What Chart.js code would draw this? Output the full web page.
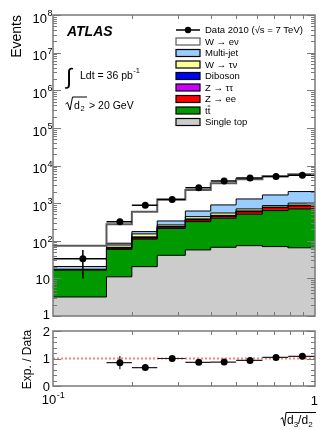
<!DOCTYPE html>
<html><head><meta charset="utf-8">
<script src="https://cdn.jsdelivr.net/npm/chart.js@4.4.0/dist/chart.umd.min.js"></script>
<style>
html,body{margin:0;padding:0;background:#fff;}
#wrap{position:relative;width:332px;height:430px;overflow:hidden;}
canvas{position:absolute;left:0;top:0;}
</style></head><body>
<div id="wrap"><canvas id="main" width="332" height="430"></canvas><canvas id="ratio" width="332" height="430"></canvas></div>
<script>
// ---------------- data ----------------
const binEdges    = [0.1, 0.16, 0.2, 0.25, 0.32, 0.4, 0.5, 0.63, 0.79, 1.0];
const dataCounts  = [33, 322, 880, 1240, 2580, 3890, 4680, 5070, 5510];
const dataErrLow  = [23, 18, 30, 35, 51, 62, 68, 71, 74];
const dataErrHigh = [24, 18, 30, 35, 51, 62, 68, 71, 74];
const singleTop = [3.2, 11, 20.5, 41, 57, 67, 74, 70, 65];
const ttbar     = [13.5, 48, 89.5, 171, 265, 330, 433, 563, 636];
const zee       = [0.3, 4, 7, 18, 35, 46, 80, 120, 139];
const ztautau   = [0.1, 2, 5, 5, 12, 15, 17, 16, 24];
const diboson   = [0.1, 2, 5, 5, 12, 15, 17, 16, 24];
const wtaunu    = [0.3, 10, 25, 23, 56, 73, 80, 75, 112];
const multijet  = [3.2, 9, 23, 73, 180, 350, 589, 790, 1030];
const wenu      = [53, 188, 415, 904, 1603, 2484, 3010, 3550, 3820];
const ratioValues = [null, 0.85, 0.67, 1.0, 0.86, 0.87, 0.93, 1.04, 1.08];
const ratioErr    = [null, 0.24, 0.04, 0.08, 0.05, 0.04, 0.04, 0.04, 0.04];
const mainYTickPowers = [0, 1, 2, 3, 4, 5, 6, 7, 8];
const xMinorTickValues = [0.2, 0.3, 0.4, 0.5, 0.6, 0.7, 0.8, 0.9];
const ratioYTickLabels = ['0', '1', '2'];
const seriesNames = ['Single top', 'tt', 'Z \u2192 ee', 'Z \u2192 \u03c4\u03c4', 'Diboson', 'W \u2192 \u03c4\u03bd', 'Multi-jet', 'W \u2192 e\u03bd'];

// ---------------- styles ----------------
const stackSeries = [singleTop, ttbar, zee, ztautau, diboson, wtaunu, multijet, wenu];
const stackStyles = [
  {fill:'#cccccc', line:'#000', lw:1},
  {fill:'#009900', line:'#000', lw:1},
  {fill:'#ff0000', line:'#000', lw:1},
  {fill:'#cc00ff', line:'#000', lw:1},
  {fill:'#0000ff', line:'#000', lw:1},
  {fill:'#ffff99', line:'#000', lw:1},
  {fill:'#99ccff', line:'#000', lw:1},
  {fill:'#ffffff', line:'#5a5a5a', lw:2}
];
const FF = '"Liberation Sans", Arial, Helvetica, sans-serif';
const fnt = (s, st) => (st ? st + ' ' : '') + s + 'px ' + FF;
const FRAME = '#7a7a7a';

// ---------------- build tables ----------------
const nb = dataCounts.length;
const centers = [];
for (let i = 0; i < nb; i++) centers.push((binEdges[i] + binEdges[i + 1]) / 2);
function stepPoints(vals) {
  const pts = [];
  for (let i = 0; i < vals.length; i++) {
    pts.push({x: binEdges[i], y: vals[i]});
    pts.push({x: binEdges[i + 1], y: vals[i]});
  }
  return pts;
}
let run = new Array(nb).fill(0);
const cums = stackSeries.map(arr => { run = run.map((r, i) => r + arr[i]); return run.slice(); });

const stackDatasets = [];
for (let k = stackSeries.length - 1; k >= 0; k--) {
  const st = stackStyles[k];
  stackDatasets.push({
    label: seriesNames[k], data: stepPoints(cums[k]),
    borderColor: st.line, borderWidth: st.lw, backgroundColor: st.fill,
    fill: k === 0 ? 'start' : '+1', pointRadius: 0, tension: 0
  });
}
function xErrPoints(vals) {
  const pts = [];
  for (let i = 0; i < nb; i++) {
    if (vals[i] == null) continue;
    pts.push({x: binEdges[i], y: vals[i]}, {x: binEdges[i + 1], y: vals[i]}, {x: binEdges[i + 1], y: null});
  }
  return pts;
}
function yErrPoints(vals, lo, hi) {
  const pts = [];
  for (let i = 0; i < nb; i++) {
    if (vals[i] == null) continue;
    pts.push({x: centers[i], y: vals[i] - lo[i]}, {x: centers[i], y: vals[i] + hi[i]}, {x: centers[i], y: null});
  }
  return pts;
}
const dataDatasets = [
  {label: 'Data 2010', data: centers.map((c, i) => ({x: c, y: dataCounts[i]})), showLine: false,
   pointRadius: 3.5, pointBackgroundColor: '#000', pointBorderColor: '#000', pointBorderWidth: 0, borderWidth: 0},
  {data: xErrPoints(dataCounts), borderColor: '#000', borderWidth: 1.5, pointRadius: 0, fill: false, spanGaps: false},
  {data: yErrPoints(dataCounts, dataErrLow, dataErrHigh), borderColor: '#000', borderWidth: 1.5, pointRadius: 0, fill: false, spanGaps: false}
];

// ---------------- drawing helpers ----------------
function seg(ctx, x1, y1, x2, y2) { ctx.beginPath(); ctx.moveTo(x1, y1); ctx.lineTo(x2, y2); ctx.stroke(); }
function powLabel(ctx, base, sup, xRight, yc, bs, ss) {
  ctx.textAlign = 'left'; ctx.textBaseline = 'alphabetic';
  ctx.font = fnt(ss); const ws = sup ? ctx.measureText(sup).width : 0;
  ctx.font = fnt(bs); const wb = ctx.measureText(base).width;
  const x0 = xRight - ws - wb;
  const bl = yc + bs * 0.36 + (sup ? 3 : 0);
  ctx.fillText(base, x0, bl);
  if (sup) { ctx.font = fnt(ss); ctx.fillText(sup, x0 + wb + 0.5, bl - bs * 0.5); }
}
function xTicks(ctx, xs, top, bottom) {
  for (const v of xMinorTickValues) {
    const px = Math.round(xs.getPixelForValue(v)) + 0.5;
    seg(ctx, px, bottom, px, bottom - 4); seg(ctx, px, top, px, top + 4);
  }
}

const mainPlugin = {
  id: 'mainDecor',
  afterDraw(chart) {
    const ctx = chart.ctx; const {left, right, top, bottom} = chart.chartArea;
    const xs = chart.scales.x, ys = chart.scales.y;
    ctx.save();
    ctx.strokeStyle = FRAME; ctx.lineWidth = 1;
    xTicks(ctx, xs, top, bottom);
    for (const p of mainYTickPowers) {
      const py = Math.round(ys.getPixelForValue(Math.pow(10, p))) + 0.5;
      seg(ctx, left, py, left + 8, py); seg(ctx, right, py, right - 8, py);
      if (p < 8) for (let k = 2; k <= 9; k++) {
        const qy = Math.round(ys.getPixelForValue(k * Math.pow(10, p))) + 0.5;
        seg(ctx, left, qy, left + 4, qy); seg(ctx, right, qy, right - 4, qy);
      }
    }
    ctx.lineWidth = 1.5; ctx.strokeRect(left, top, right - left, bottom - top);
    // y tick labels
    ctx.fillStyle = '#000';
    for (const p of mainYTickPowers) {
      const py = ys.getPixelForValue(Math.pow(10, p));
      if (p === 0) powLabel(ctx, '1', null, 50, py - 2, 13, 9);
      else if (p === 1) powLabel(ctx, '10', null, 50, py + 1, 13, 9);
      else powLabel(ctx, '10', String(p), 52, py, 13, 9);
    }
    // y title
    ctx.save(); ctx.translate(21, 15); ctx.rotate(-Math.PI / 2);
    ctx.font = fnt(14); ctx.textAlign = 'right'; ctx.textBaseline = 'alphabetic';
    ctx.fillText('Events', 0, 0); ctx.restore();
    // ATLAS label
    ctx.textAlign = 'left'; ctx.textBaseline = 'alphabetic';
    ctx.font = fnt(14, 'italic bold'); ctx.fillText('ATLAS', 67, 36);
    ctx.font = fnt(22); ctx.fillText('\u222b', 66, 84);
    ctx.font = fnt(10.5); ctx.fillText('Ldt = 36 pb', 80, 78.5);
    let w = ctx.measureText('Ldt = 36 pb').width;
    ctx.font = fnt(7.5); ctx.fillText('-1', 80 + w + 0.5, 72.5);
    // sqrt(d2) > 20 GeV
    ctx.strokeStyle = '#000'; ctx.lineWidth = 1;
    ctx.beginPath(); ctx.moveTo(65.5, 104); ctx.lineTo(67.5, 102.5); ctx.lineTo(70, 110); ctx.lineTo(72.5, 97); ctx.lineTo(87, 97); ctx.stroke();
    ctx.font = fnt(10.5); ctx.fillText('d', 74, 108.5);
    ctx.font = fnt(7.5); ctx.fillText('2', 80.5, 111);
    ctx.font = fnt(10.5); ctx.fillText('> 20 GeV', 89, 108.5);
    // legend
    const lx0 = 176, lx1 = 200, tx = 205, ly0 = 30, ldy = 11.5;
    ctx.font = fnt(9.5); ctx.textBaseline = 'middle';
    ctx.strokeStyle = '#000'; ctx.lineWidth = 1.5;
    seg(ctx, lx0, ly0, lx1, ly0);
    ctx.beginPath(); ctx.arc((lx0 + lx1) / 2, ly0, 3.2, 0, Math.PI * 2); ctx.fill();
    ctx.fillText('Data 2010 (\u221as = 7 TeV)', tx, ly0 + 0.5);
    ctx.lineWidth = 1.2;
    for (let j = 0; j < 8; j++) {
      const k = 7 - j; const y = ly0 + ldy * (j + 1);
      ctx.fillStyle = stackStyles[k].fill;
      ctx.fillRect(lx0, y - 3.5, lx1 - lx0, 7);
      ctx.strokeStyle = k === 7 ? '#5a5a5a' : '#000';
      ctx.strokeRect(lx0, y - 3.5, lx1 - lx0, 7);
      ctx.fillStyle = '#000';
      ctx.fillText(seriesNames[k], tx, y + 0.5);
      if (k === 1) {
        const wt = ctx.measureText('t').width;
        ctx.lineWidth = 0.8; seg(ctx, tx + wt, y - 4.5, tx + 2 * wt, y - 4.5); ctx.lineWidth = 1.2;
      }
    }
    ctx.restore();
  }
};

new Chart(document.getElementById('main'), {
  type: 'line',
  data: {datasets: [...dataDatasets, ...stackDatasets]},
  options: {
    responsive: false, animation: false, devicePixelRatio: 1,
    layout: {padding: {left: 53, right: 17, top: 15, bottom: 430 - 316}},
    scales: {
      x: {type: 'logarithmic', min: 0.1, max: 1, display: false},
      y: {type: 'logarithmic', min: 1, max: 1e8, display: false}
    },
    plugins: {legend: {display: false}, tooltip: {enabled: false}, filler: {drawTime: 'beforeDatasetsDraw'}},
    elements: {line: {tension: 0}}
  },
  plugins: [mainPlugin]
});

// ---------------- ratio panel ----------------
const ratioPlugin = {
  id: 'ratioDecor',
  afterDraw(chart) {
    const ctx = chart.ctx; const {left, right, top, bottom} = chart.chartArea;
    const xs = chart.scales.x, ys = chart.scales.y;
    ctx.save();
    ctx.strokeStyle = FRAME; ctx.lineWidth = 1;
    xTicks(ctx, xs, top, bottom);
    for (let v = 0; v <= 2.0001; v += 0.2) {
      const py = Math.round(ys.getPixelForValue(v)) + 0.5;
      const major = Math.abs(v - Math.round(v)) < 1e-6;
      const L = major ? 8 : 4;
      seg(ctx, left, py, left + L, py); seg(ctx, right, py, right - L, py);
    }
    ctx.lineWidth = 1.5; ctx.strokeRect(left, top, right - left, bottom - top);
    ctx.fillStyle = '#000';
    ratioYTickLabels.forEach(t => powLabel(ctx, t, null, 50, ys.getPixelForValue(Number(t)), 13, 9));
    // y title
    ctx.save(); ctx.translate(30.5, (top + bottom) / 2 + 1); ctx.rotate(-Math.PI / 2);
    ctx.font = fnt(12); ctx.textAlign = 'center'; ctx.textBaseline = 'alphabetic';
    ctx.fillText('Exp. / Data', 0, 0); ctx.restore();
    // x tick labels
    ctx.textBaseline = 'alphabetic'; ctx.textAlign = 'left';
    const x0 = xs.getPixelForValue(0.1);
    ctx.font = fnt(13); const w10 = ctx.measureText('10').width;
    ctx.font = fnt(9); const wsup = ctx.measureText('-1').width;
    const sx = x0 - (w10 + wsup) / 2;
    ctx.font = fnt(13); ctx.fillText('10', sx, 404);
    ctx.font = fnt(9); ctx.fillText('-1', sx + w10 + 0.5, 398);
    ctx.font = fnt(13); ctx.textAlign = 'right'; ctx.fillText('1', xs.getPixelForValue(1) + 3, 405);
    // x title sqrt(d3/d2)
    ctx.textAlign = 'left';
    ctx.strokeStyle = '#000'; ctx.lineWidth = 1;
    ctx.beginPath(); ctx.moveTo(280.5, 419); ctx.lineTo(282.5, 417.5); ctx.lineTo(284.5, 426); ctx.lineTo(286, 412.5); ctx.lineTo(316, 412.5); ctx.stroke();
    let cx = 287;
    ctx.font = fnt(12); ctx.fillText('d', cx, 424); cx += ctx.measureText('d').width;
    ctx.font = fnt(8); ctx.fillText('3', cx, 427); cx += ctx.measureText('3').width;
    ctx.font = fnt(12); ctx.fillText('/d', cx, 424); cx += ctx.measureText('/d').width;
    ctx.font = fnt(8); ctx.fillText('2', cx, 427);
    ctx.restore();
  }
};

new Chart(document.getElementById('ratio'), {
  type: 'line',
  data: {datasets: [
    {data: centers.map((c, i) => ({x: c, y: ratioValues[i]})), showLine: false,
     pointRadius: 3.5, pointBackgroundColor: '#000', pointBorderColor: '#000', pointBorderWidth: 0, borderWidth: 0},
    {data: xErrPoints(ratioValues), borderColor: '#222', borderWidth: 1.2, pointRadius: 0, fill: false, spanGaps: false},
    {data: yErrPoints(ratioValues, ratioErr, ratioErr), borderColor: '#222', borderWidth: 1.2, pointRadius: 0, fill: false, spanGaps: false},
    {data: [{x: 0.1, y: 1}, {x: 1, y: 1}], borderColor: '#ff8080', borderWidth: 2, borderDash: [2, 2], pointRadius: 0, fill: false}
  ]},
  options: {
    responsive: false, animation: false, devicePixelRatio: 1,
    layout: {padding: {left: 53, right: 17, top: 331, bottom: 430 - 386}},
    scales: {
      x: {type: 'logarithmic', min: 0.1, max: 1, display: false},
      y: {type: 'linear', min: 0, max: 2, display: false}
    },
    plugins: {legend: {display: false}, tooltip: {enabled: false}},
    elements: {line: {tension: 0}}
  },
  plugins: [ratioPlugin]
});
</script>
</body></html>
